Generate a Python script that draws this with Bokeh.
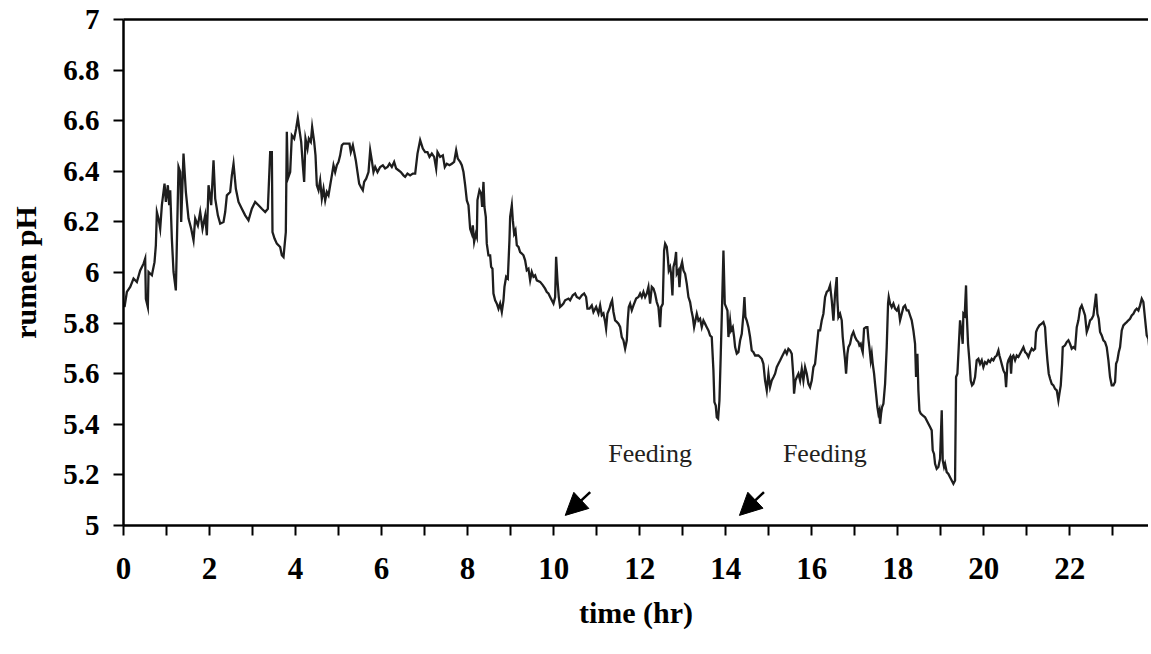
from bokeh.plotting import figure
from bokeh.models import Range1d, FixedTicker, NumeralTickFormatter, LinearAxis, Label, Arrow, NormalHead
from bokeh.embed import file_html
from bokeh.resources import INLINE

# ---- data (time in hours, rumen pH) ----
seg_a_hr = [0.024, 0.078, 0.156, 0.233, 0.311, 0.388, 0.466, 0.504, 0.52, 0.566,
            0.582, 0.66, 0.721, 0.752, 0.776, 0.814, 0.853, 0.892, 0.954, 0.985,
            1.031, 1.062, 1.086, 1.124, 1.163, 1.217, 1.279, 1.318, 1.341, 1.395,
            1.45, 1.512, 1.574, 1.628, 1.667, 1.729, 1.783, 1.837, 1.899, 1.938,
            1.977, 2.039, 2.093, 2.132, 2.194, 2.248, 2.325, 2.364, 2.403, 2.48,
            2.519, 2.558, 2.612, 2.674, 2.751, 2.829, 2.906, 2.984, 3.061, 3.139,
            3.216, 3.294, 3.356, 3.41, 3.449, 3.464, 3.511, 3.565, 3.642, 3.681,
            3.72, 3.774, 3.797, 3.821, 3.875]
seg_a_ph = [5.863, 5.923, 5.943, 5.976, 5.962, 6.008, 6.035, 6.055, 5.896, 5.863,
            6.002, 5.989, 6.041, 6.107, 6.239, 6.213, 6.173, 6.266, 6.351, 6.279,
            6.345, 6.266, 6.325, 6.134, 6.002, 5.929, 6.417, 6.397, 6.2, 6.47,
            6.318, 6.213, 6.173, 6.127, 6.213, 6.186, 6.239, 6.173, 6.226, 6.147,
            6.345, 6.266, 6.443, 6.292, 6.226, 6.193, 6.2, 6.239, 6.305, 6.318,
            6.384, 6.43, 6.331, 6.279, 6.252, 6.226, 6.206, 6.252, 6.279, 6.266,
            6.252, 6.239, 6.252, 6.476, 6.476, 6.16, 6.134, 6.114, 6.101, 6.068,
            6.061, 6.16, 6.556, 6.371, 6.397]

seg_b_hr = [3.914, 3.968, 4.014, 4.053, 4.092, 4.131, 4.169, 4.2, 4.231, 4.278,
            4.309, 4.355, 4.386, 4.433, 4.464, 4.495, 4.534, 4.572, 4.611, 4.65,
            4.689, 4.727, 4.766, 4.805, 4.844, 4.882, 4.921, 4.96, 4.999, 5.037,
            5.076, 5.115, 5.192, 5.254, 5.285, 5.332, 5.363, 5.401, 5.44, 5.479,
            5.518, 5.564, 5.595, 5.642, 5.696, 5.735, 5.773, 5.812, 5.851, 5.905,
            5.967, 6.029, 6.083, 6.138, 6.184, 6.238, 6.292, 6.339, 6.393, 6.447,
            6.509, 6.548, 6.602, 6.664, 6.726, 6.781, 6.835, 6.897, 6.959, 7.013,
            7.067, 7.114, 7.168, 7.222, 7.269, 7.3, 7.362, 7.424, 7.47, 7.517,
            7.579, 7.633, 7.687, 7.734, 7.772, 7.827, 7.865, 7.904, 7.943, 7.982,
            8.02, 8.059, 8.098, 8.121, 8.152, 8.191]
seg_b_ph = [6.542, 6.529, 6.569, 6.611, 6.562, 6.516, 6.424, 6.358, 6.529, 6.49,
            6.529, 6.516, 6.575, 6.516, 6.463, 6.345, 6.325, 6.364, 6.292, 6.331,
            6.285, 6.318, 6.305, 6.345, 6.384, 6.424, 6.397, 6.424, 6.437, 6.463,
            6.503, 6.509, 6.509, 6.509, 6.476, 6.503, 6.476, 6.443, 6.397, 6.351,
            6.338, 6.325, 6.358, 6.371, 6.397, 6.483, 6.443, 6.397, 6.417, 6.397,
            6.417, 6.424, 6.411, 6.417, 6.43, 6.417, 6.437, 6.411, 6.404, 6.397,
            6.384, 6.378, 6.391, 6.384, 6.391, 6.391, 6.47, 6.523, 6.49, 6.476,
            6.476, 6.457, 6.47, 6.457, 6.411, 6.476, 6.457, 6.463, 6.417, 6.43,
            6.424, 6.43, 6.437, 6.483, 6.45, 6.437, 6.424, 6.397, 6.345, 6.285,
            6.266, 6.173, 6.153, 6.186, 6.121, 6.153]

seg_c_hr = [8.214, 8.229, 8.276, 8.315, 8.338, 8.369, 8.392, 8.423, 8.446, 8.485,
            8.524, 8.547, 8.578, 8.601, 8.64, 8.679, 8.718, 8.756, 8.795, 8.834,
            8.857, 8.896, 8.935, 8.973, 8.989, 9.028, 9.051, 9.082, 9.113, 9.144,
            9.183, 9.221, 9.26, 9.299, 9.337, 9.376, 9.415, 9.454, 9.492, 9.531,
            9.57, 9.609, 9.686, 9.748, 9.802, 9.841, 9.88, 9.919, 9.957, 9.996,
            10.035, 10.058, 10.089, 10.12, 10.151, 10.19, 10.228, 10.267, 10.345, 10.383,
            10.445, 10.5, 10.538, 10.6, 10.655, 10.709, 10.755, 10.786, 10.833, 10.887,
            10.926, 10.988, 11.042, 11.081, 11.12, 11.158, 11.197, 11.22, 11.251, 11.298,
            11.329, 11.36, 11.391, 11.429, 11.468, 11.507, 11.546, 11.584, 11.623, 11.662,
            11.701, 11.724, 11.747, 11.778, 11.817, 11.856, 11.918, 11.972, 12.011, 12.049,
            12.088, 12.127, 12.166, 12.204, 12.243, 12.282, 12.321]
seg_c_ph = [6.141, 6.286, 6.325, 6.312, 6.259, 6.358, 6.259, 6.22, 6.114, 6.068,
            6.068, 6.022, 6.015, 5.917, 5.89, 5.877, 5.857, 5.877, 5.844, 5.89,
            5.943, 5.983, 5.976, 6.128, 6.22, 6.266, 6.207, 6.154, 6.167, 6.108,
            6.101, 6.081, 6.075, 6.068, 6.048, 6.009, 6.015, 5.969, 6.002, 5.983,
            5.989, 5.969, 5.963, 5.95, 5.936, 5.923, 5.917, 5.903, 5.89, 5.877,
            5.903, 6.062, 5.969, 5.903, 5.864, 5.87, 5.877, 5.89, 5.897, 5.89,
            5.91, 5.917, 5.903, 5.897, 5.91, 5.917, 5.903, 5.857, 5.857, 5.87,
            5.844, 5.864, 5.838, 5.87, 5.831, 5.838, 5.805, 5.778, 5.838, 5.857,
            5.877, 5.89, 5.844, 5.811, 5.805, 5.798, 5.785, 5.745, 5.732, 5.699,
            5.732, 5.811, 5.864, 5.877, 5.851, 5.87, 5.897, 5.903, 5.917, 5.903,
            5.923, 5.903, 5.917, 5.943, 5.877, 5.943, 5.936]

seg_d_hr = [12.359, 12.398, 12.437, 12.475, 12.499, 12.537, 12.568, 12.592, 12.63, 12.654,
            12.677, 12.708, 12.731, 12.762, 12.785, 12.824, 12.847, 12.863, 12.902, 12.925,
            12.956, 12.987, 13.018, 13.057, 13.095, 13.134, 13.173, 13.204, 13.235, 13.266,
            13.297, 13.328, 13.367, 13.405, 13.444, 13.483, 13.522, 13.56, 13.599, 13.638,
            13.676, 13.715, 13.738, 13.769, 13.793, 13.824, 13.855, 13.886, 13.917, 13.948,
            13.979, 14.01, 14.041, 14.064, 14.103, 14.126, 14.165, 14.196, 14.219, 14.258,
            14.296, 14.335, 14.374, 14.413, 14.436, 14.459, 14.49, 14.529, 14.567, 14.606,
            14.645, 14.684, 14.761, 14.8, 14.839, 14.877, 14.916, 14.955, 14.994, 15.032,
            15.071, 15.11, 15.149, 15.187, 15.226, 15.265, 15.304, 15.342, 15.381, 15.42,
            15.459, 15.497, 15.536, 15.575, 15.59, 15.621, 15.652, 15.691, 15.73, 15.769,
            15.807, 15.846, 15.885, 15.924, 15.962, 16.001, 16.04, 16.078, 16.117, 16.156,
            16.195, 16.233, 16.272, 16.311, 16.35, 16.388, 16.427, 16.466, 16.505, 16.543,
            16.582]
seg_d_ph = [5.916, 5.883, 5.863, 5.784, 5.863, 5.876, 6.087, 6.114, 6.101, 6.061,
            6.008, 6.021, 5.995, 5.909, 6.021, 6.048, 6.081, 5.995, 6.008, 5.942,
            6.021, 6.041, 6.008, 5.995, 5.956, 5.903, 5.883, 5.85, 5.824, 5.784,
            5.81, 5.837, 5.81, 5.817, 5.784, 5.81, 5.797, 5.784, 5.771, 5.751,
            5.745, 5.613, 5.488, 5.474, 5.428, 5.422, 5.494, 5.679, 5.876, 6.087,
            5.876, 5.863, 5.85, 5.745, 5.81, 5.771, 5.784, 5.745, 5.705, 5.679,
            5.685, 5.731, 5.758, 5.837, 5.903, 5.824, 5.81, 5.784, 5.745, 5.692,
            5.685, 5.672, 5.672, 5.666, 5.659, 5.639, 5.573, 5.534, 5.6, 5.547,
            5.573, 5.586, 5.6, 5.626, 5.639, 5.652, 5.666, 5.679, 5.692, 5.679,
            5.698, 5.692, 5.679, 5.586, 5.521, 5.573, 5.586, 5.6, 5.573, 5.619,
            5.573, 5.626, 5.6, 5.56, 5.547, 5.573, 5.626, 5.639, 5.705, 5.771,
            5.771, 5.81, 5.837, 5.903, 5.923, 5.929, 5.949, 5.89, 5.81, 5.916,
            5.982]

seg_e_hr = [16.597, 16.621, 16.659, 16.698, 16.721, 16.752, 16.776, 16.799, 16.83, 16.853,
            16.892, 16.931, 16.969, 17.008, 17.047, 17.086, 17.109, 17.14, 17.163, 17.186,
            17.217, 17.264, 17.295, 17.318, 17.341, 17.372, 17.396, 17.419, 17.45, 17.473,
            17.496, 17.527, 17.551, 17.574, 17.589, 17.613, 17.636, 17.667, 17.706, 17.744,
            17.775, 17.791, 17.822, 17.86, 17.899, 17.938, 17.977, 18.015, 18.054, 18.093,
            18.132, 18.17, 18.209, 18.248, 18.287, 18.325, 18.364, 18.403, 18.426, 18.457,
            18.48, 18.504, 18.535, 18.581, 18.635, 18.674, 18.713, 18.752, 18.79, 18.813,
            18.844, 18.868, 18.906, 18.945, 18.984, 19.023, 19.046, 19.077, 19.1, 19.139,
            19.178, 19.216, 19.255, 19.294, 19.333, 19.356, 19.387, 19.418, 19.449, 19.488,
            19.511, 19.526, 19.557, 19.588, 19.604, 19.635, 19.666, 19.697, 19.728, 19.759,
            19.798, 19.836, 19.875, 19.914, 19.953, 19.991, 20.03, 20.069, 20.107, 20.146,
            20.185, 20.224, 20.262, 20.301]
seg_e_ph = [5.89, 5.824, 5.837, 5.811, 5.745, 5.692, 5.653, 5.6, 5.679, 5.705,
            5.718, 5.751, 5.765, 5.745, 5.732, 5.725, 5.712, 5.718, 5.699, 5.685,
            5.778, 5.784, 5.784, 5.738, 5.705, 5.653, 5.679, 5.639, 5.6, 5.56,
            5.521, 5.468, 5.442, 5.455, 5.402, 5.442, 5.468, 5.481, 5.56, 5.705,
            5.877, 5.903, 5.877, 5.863, 5.877, 5.857, 5.85, 5.863, 5.811, 5.837,
            5.863, 5.87, 5.85, 5.85, 5.83, 5.811, 5.771, 5.718, 5.587, 5.679,
            5.534, 5.455, 5.442, 5.435, 5.428, 5.415, 5.402, 5.389, 5.376, 5.297,
            5.283, 5.244, 5.224, 5.231, 5.264, 5.455, 5.257, 5.231, 5.244, 5.211,
            5.204, 5.191, 5.178, 5.165, 5.178, 5.587, 5.6, 5.705, 5.811, 5.758,
            5.718, 5.837, 5.83, 5.949, 5.837, 5.718, 5.653, 5.573, 5.554, 5.56,
            5.587, 5.653, 5.659, 5.639, 5.653, 5.626, 5.646, 5.639, 5.653, 5.646,
            5.659, 5.653, 5.666, 5.672]

seg_f_hr = [20.341, 20.364, 20.395, 20.426, 20.457, 20.496, 20.519, 20.55, 20.573, 20.612,
            20.635, 20.658, 20.689, 20.728, 20.767, 20.806, 20.844, 20.883, 20.922, 20.961,
            20.999, 21.038, 21.077, 21.116, 21.154, 21.193, 21.216, 21.247, 21.294, 21.348,
            21.387, 21.425, 21.449, 21.48, 21.511, 21.542, 21.58, 21.619, 21.658, 21.697,
            21.735, 21.759, 21.79, 21.821, 21.836, 21.89, 21.929, 21.968, 22.007, 22.045,
            22.084, 22.123, 22.162, 22.2, 22.239, 22.278, 22.317, 22.355, 22.394, 22.433,
            22.472, 22.51, 22.549, 22.588, 22.611, 22.642, 22.673, 22.704, 22.743, 22.781,
            22.82, 22.859, 22.898, 22.936, 22.975, 23.014, 23.053, 23.076, 23.107, 23.138,
            23.169, 23.208, 23.246, 23.285, 23.324, 23.363, 23.401, 23.44, 23.479, 23.518,
            23.556, 23.595, 23.634, 23.673, 23.711, 23.75, 23.789, 23.827, 23.851]
seg_f_ph = [5.692, 5.672, 5.653, 5.633, 5.613, 5.6, 5.547, 5.639, 5.653, 5.666,
            5.6, 5.666, 5.672, 5.653, 5.672, 5.666, 5.679, 5.692, 5.705, 5.685,
            5.679, 5.666, 5.685, 5.699, 5.692, 5.699, 5.765, 5.778, 5.791, 5.798,
            5.804, 5.784, 5.718, 5.653, 5.6, 5.58, 5.56, 5.554, 5.54, 5.534,
            5.494, 5.521, 5.554, 5.639, 5.705, 5.712, 5.725, 5.732, 5.718, 5.699,
            5.705, 5.699, 5.784, 5.811, 5.857, 5.87, 5.85, 5.83, 5.765, 5.784,
            5.811, 5.817, 5.83, 5.883, 5.916, 5.837, 5.817, 5.765, 5.751, 5.732,
            5.725, 5.705, 5.653, 5.587, 5.554, 5.554, 5.567, 5.639, 5.653, 5.685,
            5.705, 5.771, 5.791, 5.798, 5.804, 5.811, 5.817, 5.83, 5.837, 5.85,
            5.857, 5.85, 5.87, 5.896, 5.883, 5.817, 5.751, 5.738, 5.699]

x_ticks = [0, 2, 4, 6, 8, 10, 12, 14, 16, 18, 20, 22]
x_minor_ticks = [1, 3, 5, 7, 9, 11, 13, 15, 17, 19, 21, 23]
x_tick_labels = ["0", "2", "4", "6", "8", "10", "12", "14", "16", "18", "20", "22"]
y_ticks = [5.0, 5.2, 5.4, 5.6, 5.8, 6.0, 6.2, 6.4, 6.6, 6.8, 7.0]

feeding_text = ["Feeding", "Feeding"]
feeding_text_hr = [11.27, 15.33]
feeding_text_ph = [5.284, 5.284]
arrow_tail_hr = [10.85, 14.89]
arrow_tail_ph = [5.132, 5.132]
arrow_tip_hr = [10.27, 14.32]
arrow_tip_ph = [5.04, 5.04]

time_hr = seg_a_hr + seg_b_hr + seg_c_hr + seg_d_hr + seg_e_hr + seg_f_hr
rumen_ph = seg_a_ph + seg_b_ph + seg_c_ph + seg_d_ph + seg_e_ph + seg_f_ph
for a, b in [(seg_a_hr, seg_a_ph), (seg_b_hr, seg_b_ph), (seg_c_hr, seg_c_ph),
             (seg_d_hr, seg_d_ph), (seg_e_hr, seg_e_ph), (seg_f_hr, seg_f_ph)]:
    assert len(a) == len(b), (len(a), len(b))

SERIF = "Liberation Serif"

p = figure(width=1148, height=650, x_range=Range1d(0, 23.83), y_range=Range1d(5, 7),
           output_backend="svg", toolbar_location=None,
           min_border_left=123, min_border_right=0, min_border_top=19, min_border_bottom=125)
p.outline_line_color = None
p.grid.visible = False
p.background_fill_color = "white"
p.border_fill_color = "white"

p.line(time_hr, rumen_ph, line_color="#1e1e1e", line_width=2.3, line_join="miter")

# x axis
xa = p.xaxis[0]
xa.ticker = FixedTicker(ticks=x_ticks, minor_ticks=x_minor_ticks)
xa.major_label_overrides = dict(zip(x_ticks, x_tick_labels))
xa.axis_line_width = 2.5
xa.axis_line_color = "black"
xa.major_tick_in = 0
xa.major_tick_out = 10
xa.major_tick_line_width = 2
xa.minor_tick_in = 0
xa.minor_tick_out = 10
xa.minor_tick_line_width = 2
xa.minor_tick_line_color = "black"
xa.major_label_standoff = 22
xa.major_label_text_font = SERIF
xa.major_label_text_font_style = "bold"
xa.major_label_text_font_size = "31px"
xa.major_label_text_color = "black"
xa.axis_label = "time (hr)"
xa.axis_label_text_font = SERIF
xa.axis_label_text_font_style = "bold"
xa.axis_label_text_font_size = "30px"
xa.axis_label_text_color = "black"
xa.axis_label_standoff = 14

# y axis
ya = p.yaxis[0]
ya.ticker = FixedTicker(ticks=y_ticks, minor_ticks=[])
ya.formatter = NumeralTickFormatter(format="0.[0]")
ya.axis_line_width = 2.5
ya.axis_line_color = "black"
ya.major_tick_in = 0
ya.major_tick_out = 10
ya.major_tick_line_width = 2
ya.minor_tick_line_color = None
ya.major_label_standoff = 14
ya.major_label_text_font = SERIF
ya.major_label_text_font_style = "bold"
ya.major_label_text_font_size = "29px"
ya.major_label_text_color = "black"
ya.axis_label = "rumen pH"
ya.axis_label_text_font = SERIF
ya.axis_label_text_font_style = "bold"
ya.axis_label_text_font_size = "30px"
ya.axis_label_text_color = "black"
ya.axis_label_standoff = 18

# top border line only
top = LinearAxis(ticker=FixedTicker(ticks=[], minor_ticks=[]), axis_line_width=2.5,
                 axis_line_color="black", major_tick_line_color=None,
                 minor_tick_line_color=None, major_label_text_font_size="0px",
                 major_label_standoff=0)
p.add_layout(top, "above")

for t, tx, ty in zip(feeding_text, feeding_text_hr, feeding_text_ph):
    p.add_layout(Label(x=tx, y=ty, text=t, text_font=SERIF, text_font_size="26px",
                       text_color="#231f20", text_baseline="alphabetic", text_align="left"))

for x0, y0, x1, y1 in zip(arrow_tail_hr, arrow_tail_ph, arrow_tip_hr, arrow_tip_ph):
    p.add_layout(Arrow(end=NormalHead(size=22, fill_color="black", line_color="black", line_width=1),
                       x_start=x0, y_start=y0, x_end=x1, y_end=y1,
                       line_width=2.5, line_color="black"))

open("out.html", "w").write(file_html(p, INLINE))
